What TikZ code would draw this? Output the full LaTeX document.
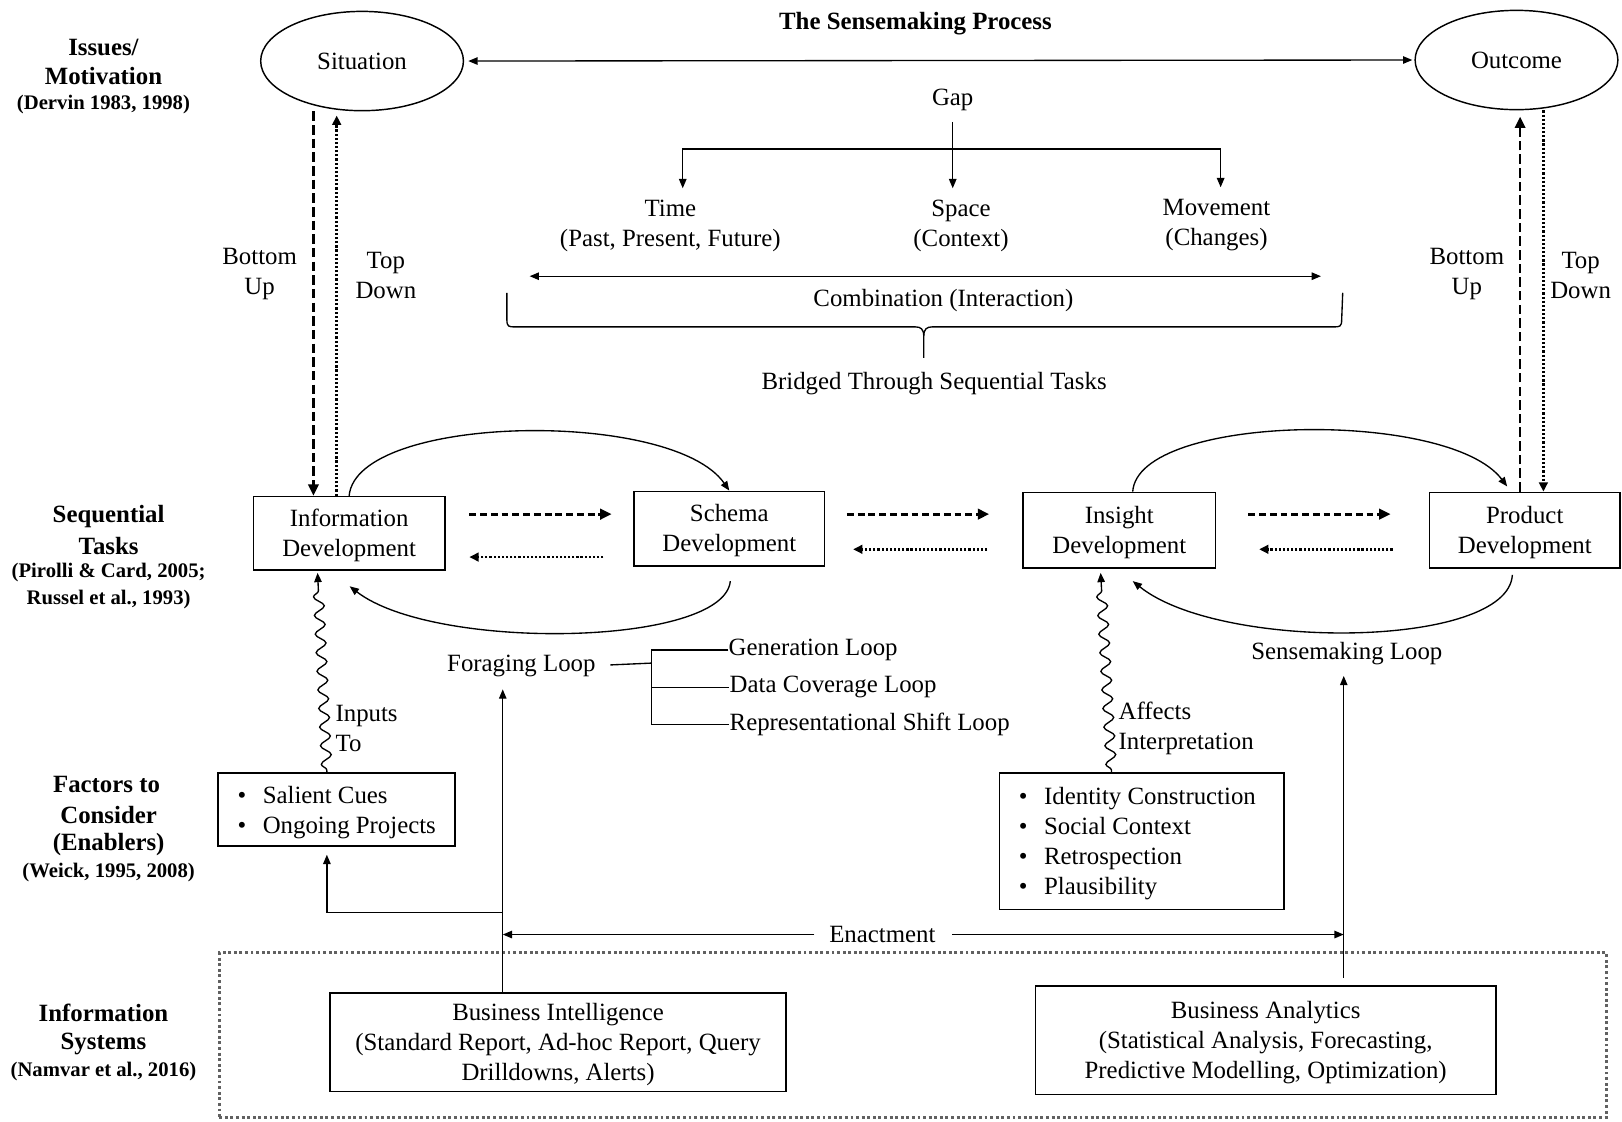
\documentclass[tikz,border=0pt]{standalone}
\usepackage{fontspec}
\setmainfont{Liberation Serif}
\usetikzlibrary{arrows.meta,shapes.geometric,decorations.pathmorphing,calc}
\newcommand{\boxtxt}[1]{\raisebox{-1.1pt}[\height][\depth]{\begin{tabular}{@{}c@{}}#1\end{tabular}}}
\newcommand{\bullist}[1]{\raisebox{-1.4pt}[\height][\depth]{\begin{tabular}{@{}l@{\hspace{8pt}}l@{}}#1\end{tabular}}}
\tikzset{
 tx/.style={inner sep=0pt, font=\fontsize{12}{14.5}\selectfont, align=center, yshift=-1.2pt},
 bl/.style={inner sep=0pt, font=\bfseries\fontsize{12}{14.5}\selectfont, align=center, yshift=-0.8pt},
 ct/.style={inner sep=0pt, font=\bfseries\fontsize{10}{13}\selectfont, align=center, yshift=-0.8pt},
 box/.style={draw, line width=0.75pt, inner sep=0pt, font=\fontsize{12}{14.5}\selectfont, align=center},
 ell/.style={draw, ellipse, line width=0.7pt, inner sep=0pt, font=\fontsize{12}{14.5}\selectfont, minimum width=98pt, minimum height=48pt},
 tip/.style={-{Triangle[length=4.5pt,width=3.6pt]}},
 dtip/.style={-{Triangle[length=4.5pt,width=4.2pt]}},
 btip/.style={-{Triangle[length=5.5pt,width=5pt]}},
 tips/.style={{Triangle[length=4.5pt,width=3.6pt]}-{Triangle[length=4.5pt,width=3.6pt]}},
 ln/.style={line width=0.65pt},
 dsh/.style={line width=1.4pt, dash pattern=on 3.3pt off 1.9pt},
 dshv/.style={line width=1.3pt, dash pattern=on 4.6pt off 2pt},
 dtt/.style={line width=1.2pt, dash pattern=on 1.05pt off 0.95pt},
 wavy/.style={decorate, decoration={snake, amplitude=2.5pt, segment length=9pt, post length=5pt, pre length=1pt}},
 isframe/.style={draw=black!62, line width=1.4pt, dash pattern=on 1.4pt off 1.3pt, inner sep=0pt},
}
\begin{document}
\begin{tikzpicture}[x=0.5pt,y=-0.5pt]
\useasboundingbox (0,0) rectangle (1568,1084);

% title and left labels
\node[bl] (title) at (885,21) {The Sensemaking Process};
\node[bl] (iss1) at (100,44) {Issues/};
\node[bl] (iss2) at (100,72) {Motivation};
\node[ct] (iss3) at (100,99) {(Dervin 1983, 1998)};
\node[bl] (seq1) at (105,498) {Sequential};
\node[bl] (seq2) at (105,526) {Tasks};
\node[ct] (seq3) at (105,552) {(Pirolli \& Card, 2005;};
\node[ct] (seq4) at (105,578) {Russel et al., 1993)};
\node[bl] (fac1) at (103,757) {Factors to};
\node[bl] (fac2) at (105,786) {Consider};
\node[bl] (fac3) at (105,815) {(Enablers)};
\node[ct] (fac4) at (105,842) {(Weick, 1995, 2008)};
\node[bl] (inf1) at (100,978) {Information};
\node[bl] (inf2) at (100,1008) {Systems};
\node[ct] (inf3) at (100,1034) {(Namvar et al., 2016)};

% ellipses
\node[ell] (sit) at (350,59) {Situation};
\node[ell] (out) at (1466,58) {Outcome};
\draw[ln,tips,shorten <=2pt,shorten >=1pt] (sit.east) -- (out.west);

% gap
\node[tx] (gap) at (921,94) {Gap};
\node[tx] (time) at (648,216) {Time\\(Past, Present, Future)};
\node[tx] (space) at (929,216) {Space\\(Context)};
\node[tx] (move) at (1176,215) {Movement\\(Changes)};
\coordinate (gapj) at (921,144);
\draw[ln,tip,shorten <=5.2pt,shorten >=5.5pt] (gap.south) -- (gap.south |- space.north);
\draw[ln,tip,shorten >=5.5pt] (gapj) -| ([xshift=6pt]time.north);
\draw[ln,tip,shorten >=5.5pt] (gapj) -| ([xshift=2pt]move.north);

% combination
\coordinate (cL) at (512,267);
\coordinate (cR) at (1277,267);
\draw[ln,tips] (cL) -- (cR);
\node[tx] (comb) at (912,288) {Combination (Interaction)};
\draw[ln] (490,283) -- (490,309) .. controls (490,316) and (492,316) .. (498,316) -- (885,316)
  .. controls (890,316) and (893,318) .. (893,325) -- (893,346);
\draw[ln] (1298,283) -- (1297,309) .. controls (1297,316) and (1295,316) .. (1289,316) -- (901,316)
  .. controls (896,316) and (893,318) .. (893,325);
\node[tx] (bridged) at (903,368) {Bridged Through Sequential Tasks};

% bottom up / top down labels
\node[tx] (bu1) at (251,262) {Bottom\\Up};
\node[tx] (td1) at (373,264) {Top\\Down};
\node[tx] (bu2) at (1418,262) {Bottom\\Up};
\node[tx] (td2) at (1528,264) {Top\\Down};

% task boxes
\node[box, minimum width=92.5pt, minimum height=35.5pt] (info) at (337.5,515.5) {\boxtxt{Information\\Development}};
\node[box, minimum width=92pt, minimum height=36pt] (schema) at (705,511) {\boxtxt{Schema\\Development}};
\node[box, minimum width=93pt, minimum height=36.5pt] (insight) at (1082,512.5) {\boxtxt{Insight\\Development}};
\node[box, minimum width=92pt, minimum height=36.5pt] (product) at (1474,512.5) {\boxtxt{Product\\Development}};

% vertical bottom-up / top-down
\draw[dshv,btip] ([xshift=-23.5pt]sit.south) -- ([xshift=-17.25pt]info.north);
\draw[dtt,dtip,shorten >=2pt] ([xshift=-6pt]info.north) -- ([xshift=-12.25pt]sit.south);
\draw[dshv,btip,shorten >=3pt] ([xshift=-2.25pt]product.north) -- ([xshift=1.75pt]out.south);
\draw[dtt,dtip] ([xshift=13pt]out.south) -- ([xshift=9pt]product.north);

% horizontal arrows between tasks
\draw[dsh,btip] ($(info.east)+(23,-18.5)$) -- ($(schema.west)+(-21,-14)$);
\draw[dtt,dtip] ($(schema.west)+(-29,27.5)$) -- ($(info.east)+(23,23)$);
\draw[dsh,btip] ($(schema.east)+(21,-14)$) -- ($(insight.west)+(-32,-15.5)$);
\draw[dtt,dtip] ($(insight.west)+(-34,18.5)$) -- ($(schema.east)+(27,20)$);
\draw[dsh,btip] ($(insight.east)+(31,-15.5)$) -- ($(product.west)+(-37,-15.5)$);
\draw[dtt,dtip] ($(product.west)+(-35,18.5)$) -- ($(insight.east)+(41.5,18.5)$);

% loops
\draw[ln,tip] (info.north) .. controls (345,400) and (650,395) .. (schema.north);
\draw[ln,tip] ($(schema.south)+(1,14)$) .. controls (700,625) and (420,630) .. ($(info.south)+(0.5,15)$);
\draw[ln,tip] ($(insight.north)+(13,0)$) .. controls (1100,400) and (1400,395) .. ($(product.north)+(-17,-5)$);
\draw[ln,tip] ($(product.south)+(-12,6)$) .. controls (1458,627) and (1180,630) .. ($(insight.south)+(13,12)$);

% foraging loop
\node[tx] (forag) at (504,641) {Foraging Loop};
\node[tx,anchor=west] (gen) at (704,626) {Generation Loop};
\node[tx,anchor=west] (dcl) at (705,662) {Data Coverage Loop};
\node[tx,anchor=west] (rsl) at (705,698) {Representational Shift Loop};
\coordinate (fj) at (630,641);
\draw[ln,shorten <=7pt] (forag.east) -- (fj);
\draw[ln] (gen.west) -| (fj |- rsl.west) -- (rsl.west);
\draw[ln] (fj |- dcl.west) -- (dcl.west);
\node[tx] (smloop) at (1302,629) {Sensemaking Loop};

% factor boxes
\node[box, minimum width=114.5pt, minimum height=35.5pt] (sal) at (325.5,782.5)
 {\bullist{•&Salient Cues\\•&Ongoing Projects}};
\node[box, minimum width=137.5pt, minimum height=66pt] (ident) at (1103.5,813)
 {\bullist{•&Identity Construction\\•&Social Context\\•&Retrospection\\•&Plausibility}\hspace*{4pt}};

% wavy connectors
\draw[ln,tip,wavy] ($(sal.north)+(-9.5,0)$) -- ($(info.south)+(-30.5,2)$);
\draw[ln,tip,wavy] ($(ident.north)+(-29,0)$) -- ($(insight.south)+(-18,4)$);
\node[tx,anchor=west,align=left] (inp) at (324,702) {Inputs\\To};
\node[tx,anchor=west,align=left] (aff) at (1081,702) {Affects\\Interpretation};

% information systems
\node[isframe, minimum width=670.5pt, minimum height=79.5pt] (isbox) at (882.5,1000.5) {};
\node[box, minimum width=220.5pt, minimum height=47.5pt] (bi) at (539.5,1007.5)
 {\boxtxt{Business Intelligence\\(Standard Report, Ad-hoc Report, Query\\Drilldowns, Alerts)}};
\node[box, minimum width=222.5pt, minimum height=52.5pt] (ba) at (1223.5,1005.5)
 {\boxtxt{Business Analytics\\(Statistical Analysis, Forecasting,\\Predictive Modelling, Optimization)}};

\coordinate (bitop) at ($(bi.north)+(-53.5,0)$);
\coordinate (batop) at ($(ba.north)+(75.5,-7)$);
\coordinate (smtip) at ($(smloop.center)+(0,22)$);
\draw[ln,tip] (bitop) -- ($(forag.center)+(-18,23)$);
\draw[ln,tip] ($(bitop)+(0,-77)$) -| ($(sal.south)+(-9.5,7.5)$);
\draw[ln,tip] (batop) -- (batop |- smtip);

\node[tx] (enact) at (853,901) {Enactment};
\draw[ln,tip,shorten <=7pt] (enact.west) -- (enact.west -| bitop);
\draw[ln,tip,shorten <=8pt] (enact.east) -- (enact.east -| batop);
\end{tikzpicture}
\end{document}
